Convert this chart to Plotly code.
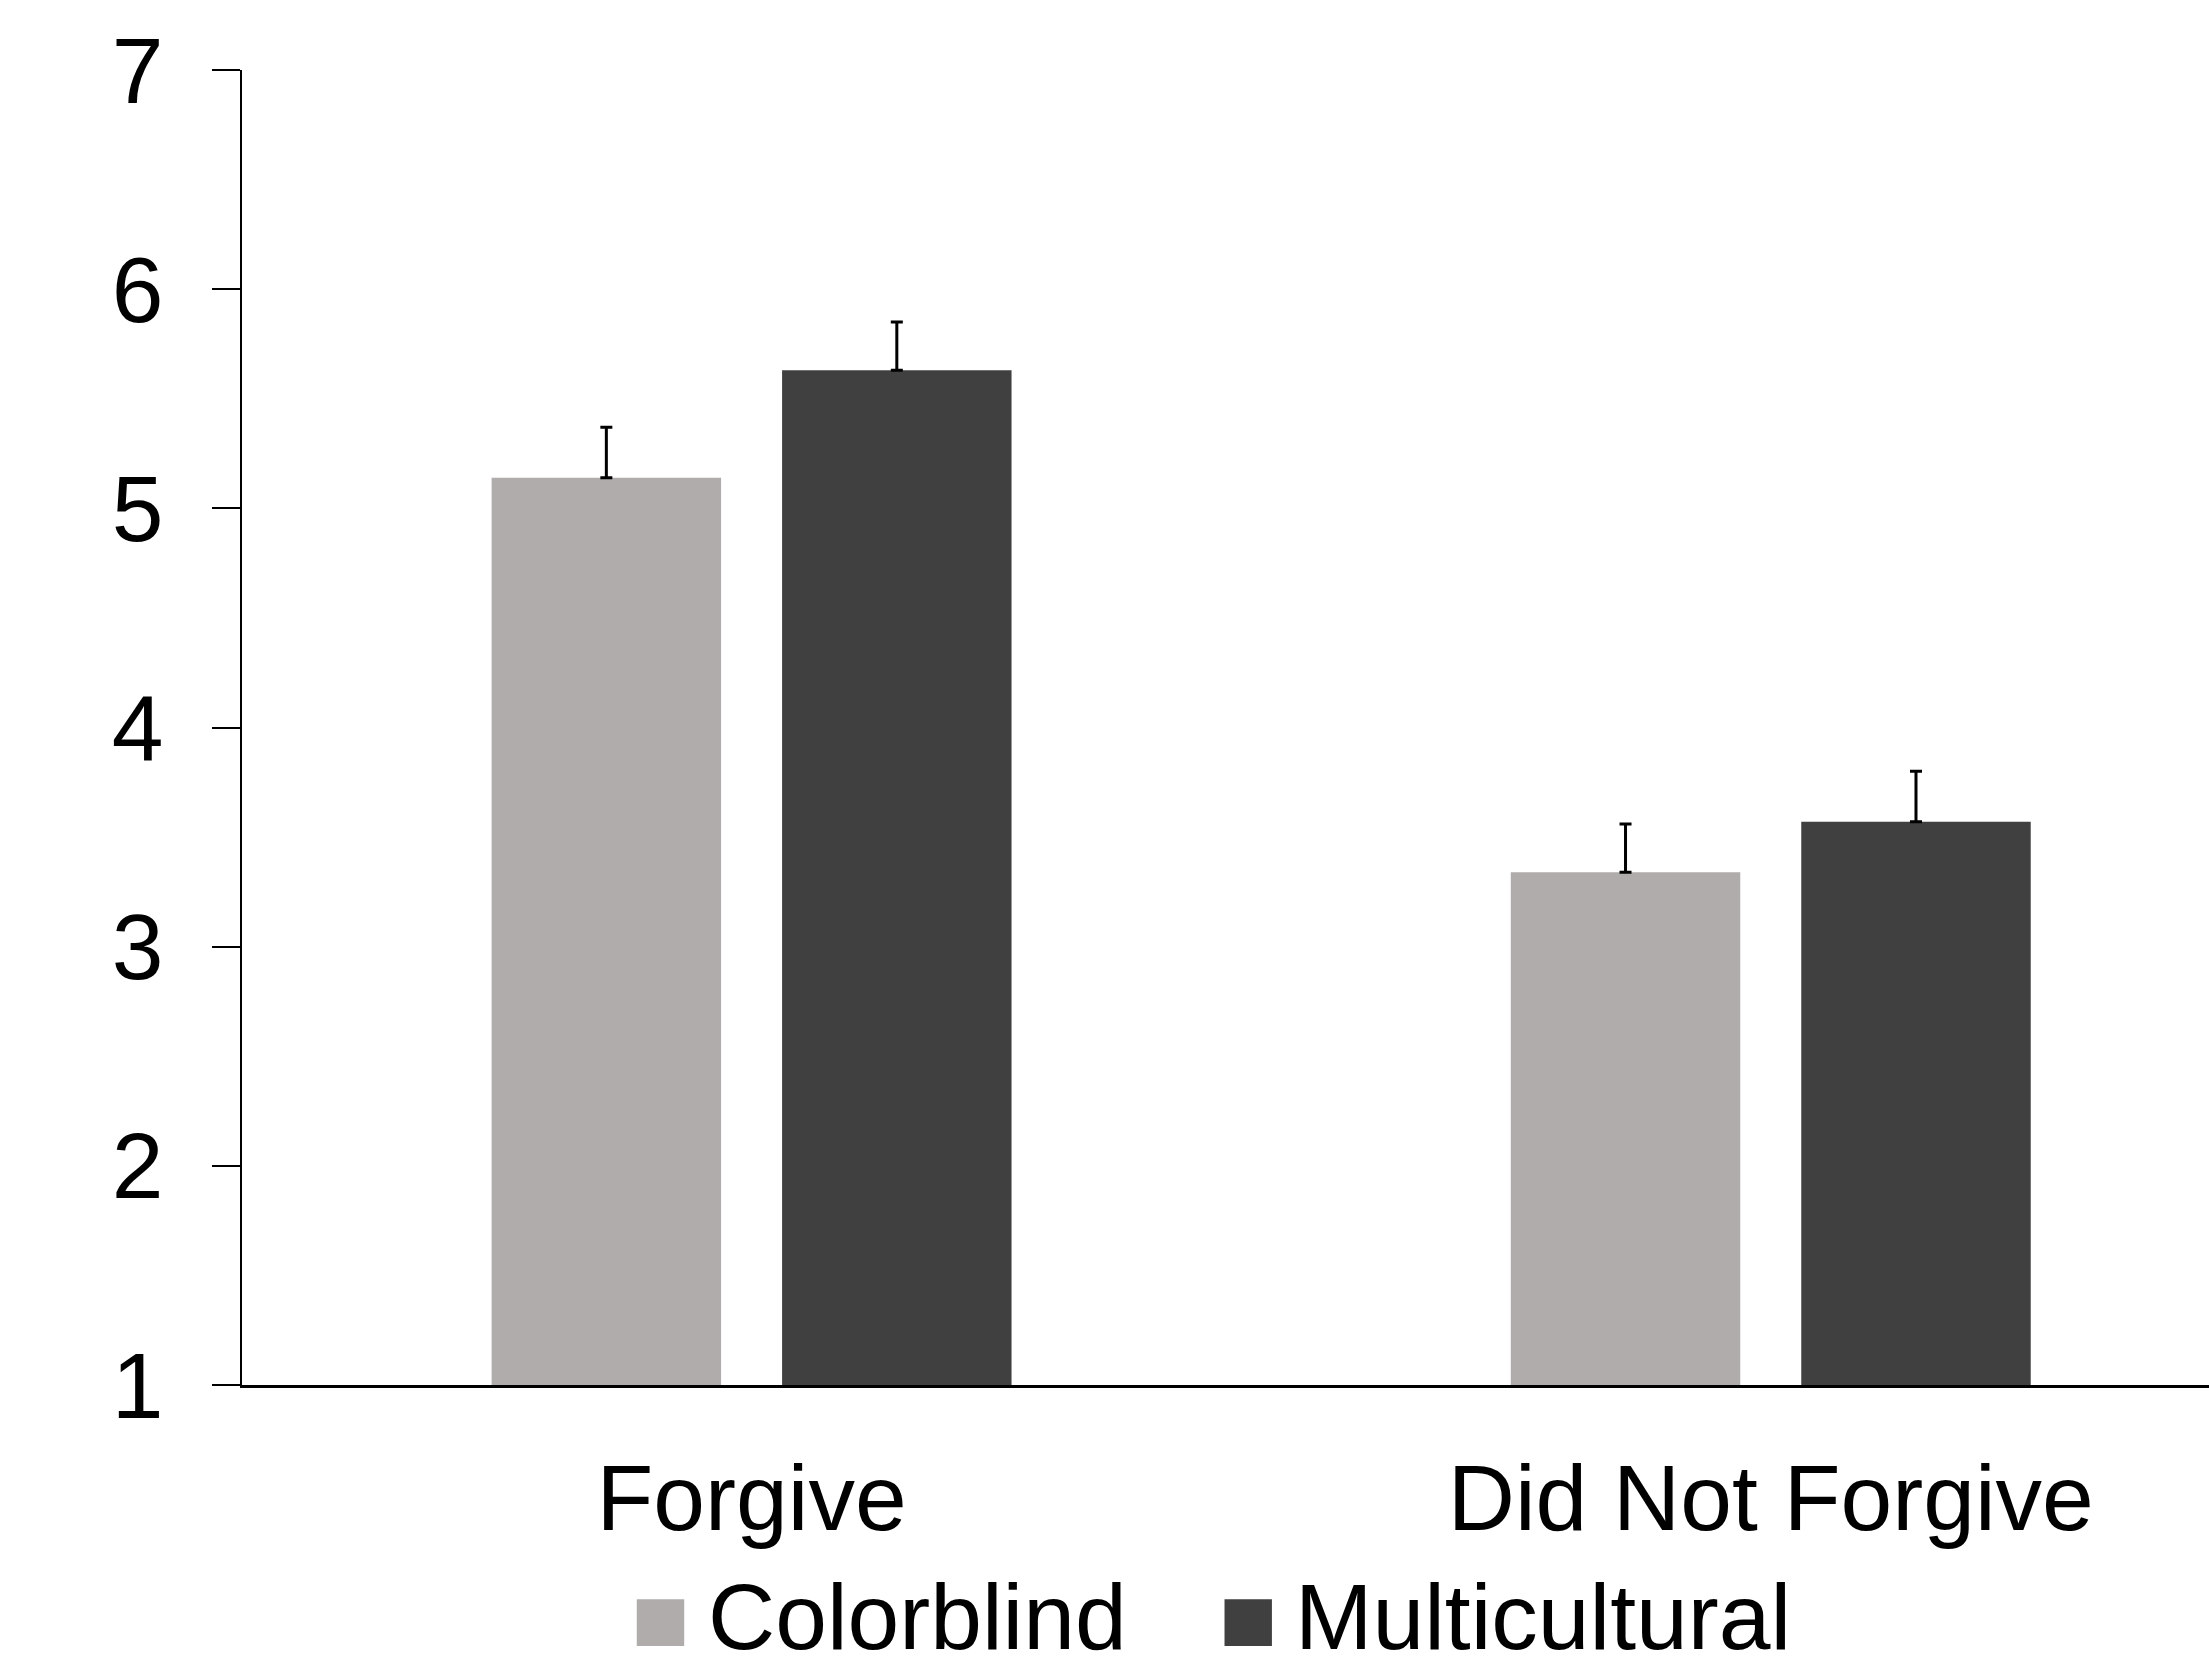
import plotly.graph_objects as go

categories = ["Forgive", "Did Not Forgive"]
series_names = ["Colorblind", "Multicultural"]
colorblind_vals = [5.14, 3.34]
colorblind_err = [0.23, 0.22]
multicultural_vals = [5.63, 3.57]
multicultural_err = [0.22, 0.23]
y_ticks = [1, 2, 3, 4, 5, 6, 7]

COL_LIGHT = "#AFACAB"
COL_DARK = "#404040"
FONT = "Liberation Sans, Arial, sans-serif"
FS = 93

fig = go.Figure()
for name, vals, errs, col in [
    (series_names[0], colorblind_vals, colorblind_err, COL_LIGHT),
    (series_names[1], multicultural_vals, multicultural_err, COL_DARK),
]:
    fig.add_trace(go.Bar(
        x=categories, y=vals, name=name,
        marker=dict(color=col, line=dict(width=0)),
        error_y=dict(type="data", symmetric=False, array=errs,
                     arrayminus=[0] * len(errs), color="black",
                     thickness=3, width=6),
        showlegend=False,
    ))

# custom legend (large squares like the original)
leg_items = [(series_names[0], COL_LIGHT, 0.2007), (series_names[1], COL_DARK, 0.4995)]
for name, col, x0 in leg_items:
    fig.add_shape(type="rect", xref="paper", yref="paper",
                  x0=x0, x1=x0 + 0.0241, y0=-0.1985, y1=-0.1630,
                  fillcolor=col, line=dict(width=0))
    fig.add_annotation(xref="paper", yref="paper", x=x0 + 0.0355, y=-0.1765,
                       text=name, showarrow=False, xanchor="left", yanchor="middle",
                       height=98, valign="middle", borderpad=0,
                       font=dict(family=FONT, size=FS, color="black"))

fig.update_layout(
    width=2209, height=1668,
    margin=dict(l=242, r=0, t=70, b=283),
    paper_bgcolor="white", plot_bgcolor="white",
    barmode="group", bargap=0.43, bargroupgap=0.21,
    font=dict(family=FONT, size=FS, color="black"),
    showlegend=False,
)
fig.update_xaxes(
    type="category", range=[-0.5, 1.43],
    showline=True, linecolor="black", linewidth=3,
    ticks="", showgrid=False, zeroline=False,
    tickfont=dict(family=FONT, size=FS, color="black"),
    ticklabelstandoff=30,
)
fig.update_yaxes(
    range=[1, 7], tickvals=y_ticks, ticktext=[str(v) for v in y_ticks],
    showline=True, linecolor="black", linewidth=2,
    ticks="outside", ticklen=28, tickwidth=2, tickcolor="black",
    showgrid=False, zeroline=False,
    tickfont=dict(family=FONT, size=FS, color="black"),
    ticklabelstandoff=30,
)

fig.write_html(
    "out.html",
    config={"displayModeBar": False},
    post_script="document.body.style.margin='0';document.body.style.overflow='hidden';",
)
